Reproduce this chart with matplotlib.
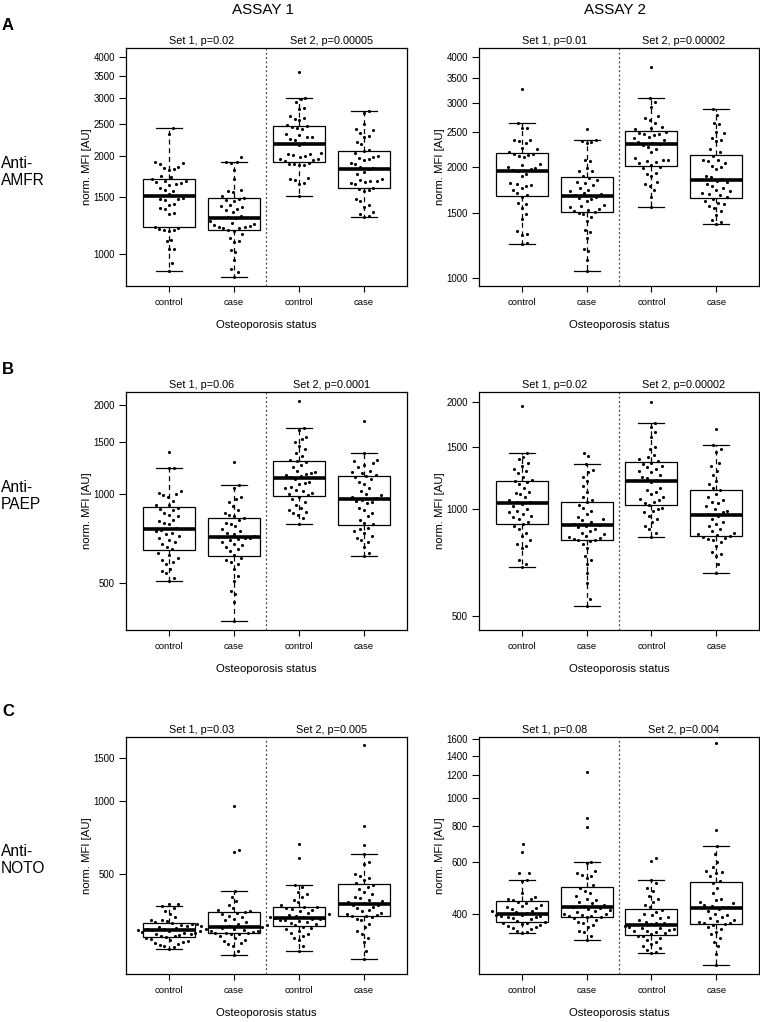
import numpy as np
import matplotlib.pyplot as plt
from matplotlib.ticker import NullLocator

plt.rcParams['font.family'] = ['Liberation Sans', 'DejaVu Sans']

# x groups
groups = ['control', 'case', 'control', 'case']
assays = ['ASSAY 1', 'ASSAY 2']
antigens = ['Anti-\nAMFR', 'Anti-\nPAEP', 'Anti-\nNOTO']
letters = ['A', 'B', 'C']

# p-value labels per panel (row, assay): (set 1, set 2)
p_labels = [
    [('Set 1, p=0.02', 'Set 2, p=0.00005'), ('Set 1, p=0.01', 'Set 2, p=0.00002')],
    [('Set 1, p=0.06', 'Set 2, p=0.0001'), ('Set 1, p=0.02', 'Set 2, p=0.00002')],
    [('Set 1, p=0.03', 'Set 2, p=0.005'), ('Set 1, p=0.08', 'Set 2, p=0.004')],
]

# --- Anti-AMFR, assay 1
amfr1_ctrl1 = [2440, 2340, 1910, 1900, 1890, 1850, 1840, 1820, 1810, 1740, 1720,
               1700, 1680, 1670, 1660, 1650, 1640, 1630, 1600, 1575, 1560, 1525,
               1490, 1480, 1475, 1470, 1430, 1420, 1390, 1380, 1340, 1330, 1215,
               1200, 1195, 1190, 1185, 1180, 1105, 1095, 1040, 1035, 940, 891]
amfr1_case1 = [1990, 1917, 1910, 1900, 1811, 1700, 1570, 1560, 1550, 1510, 1490,
               1480, 1470, 1460, 1420, 1410, 1400, 1380, 1370, 1350, 1310, 1300,
               1290, 1260, 1250, 1240, 1230, 1220, 1215, 1210, 1205, 1200, 1190,
               1180, 1150, 1120, 1100, 1090, 1030, 1020, 960, 900, 880, 854]
amfr1_ctrl2 = [3600, 3000, 2990, 2930, 2810, 2790, 2640, 2620, 2600, 2570, 2490,
               2470, 2460, 2440, 2420, 2330, 2310, 2290, 2280, 2250, 2230, 2190,
               2160, 2040, 2030, 2020, 2010, 2000, 1990, 1960, 1950, 1940, 1930,
               1900, 1895, 1890, 1880, 1870, 1710, 1700, 1690, 1650, 1640, 1504]
amfr1_case2 = [2737, 2700, 2500, 2420, 2400, 2350, 2300, 2290, 2200, 2180, 2090,
               2070, 2040, 2000, 1990, 1970, 1950, 1940, 1900, 1890, 1850, 1840,
               1820, 1790, 1760, 1700, 1690, 1680, 1670, 1660, 1650, 1640, 1600,
               1580, 1570, 1560, 1480, 1460, 1420, 1400, 1350, 1330, 1310, 1301]
# --- Anti-AMFR, assay 2
amfr2_ctrl1 = [3280, 2650, 2570, 2560, 2380, 2370, 2360, 2330, 2260, 2250, 2200,
               2180, 2170, 2160, 2150, 2140, 2040, 2030, 2000, 1990, 1980, 1970,
               1950, 1920, 1900, 1810, 1800, 1790, 1780, 1760, 1740, 1700, 1680,
               1660, 1600, 1590, 1550, 1490, 1450, 1340, 1320, 1310, 1240, 1234]
amfr2_case1 = [2547, 2377, 2360, 2340, 2330, 2100, 2080, 1990, 1960, 1950, 1900,
               1870, 1850, 1830, 1810, 1790, 1760, 1740, 1720, 1700, 1690, 1680,
               1660, 1650, 1640, 1620, 1580, 1570, 1560, 1540, 1530, 1520, 1515,
               1500, 1490, 1460, 1430, 1350, 1330, 1280, 1200, 1180, 1120, 1043]
amfr2_ctrl2 = [3750, 3084, 3020, 2920, 2760, 2720, 2700, 2640, 2580, 2560, 2540,
               2500, 2480, 2470, 2460, 2450, 2420, 2400, 2380, 2340, 2330, 2320,
               2300, 2280, 2240, 2200, 2120, 2100, 2090, 2080, 2070, 2050, 2030,
               2000, 1990, 1930, 1920, 1900, 1820, 1800, 1780, 1740, 1660, 1561]
amfr2_case2 = [2895, 2780, 2650, 2620, 2500, 2480, 2400, 2380, 2360, 2240, 2200,
               2150, 2100, 2090, 2080, 2060, 2020, 2000, 1980, 1900, 1880, 1860,
               1840, 1820, 1800, 1780, 1760, 1740, 1720, 1700, 1690, 1680, 1660,
               1640, 1620, 1600, 1590, 1570, 1550, 1520, 1480, 1440, 1420, 1397]
# --- Anti-PAEP, assay 1
paep1_ctrl1 = [1383, 1227, 1220, 1020, 1010, 1000, 990, 980, 950, 920, 915,
               900, 890, 880, 860, 850, 840, 820, 810, 800, 790, 770,
               755, 750, 740, 730, 720, 710, 700, 690, 680, 660, 650,
               630, 620, 610, 600, 590, 580, 560, 550, 540, 520, 510]
paep1_case1 = [1286, 1069, 1050, 980, 960, 940, 910, 880, 860, 850, 840,
               830, 820, 800, 790, 780, 760, 750, 740, 730, 720, 715,
               712, 710, 705, 700, 690, 680, 670, 660, 650, 640, 620,
               610, 600, 590, 580, 560, 530, 510, 470, 460, 430, 372]
paep1_ctrl2 = [2068, 1667, 1640, 1560, 1540, 1500, 1450, 1420, 1380, 1340, 1300,
               1290, 1280, 1250, 1230, 1200, 1190, 1180, 1170, 1160, 1150, 1140,
               1120, 1100, 1090, 1080, 1060, 1050, 1030, 1020, 1010, 1000, 990,
               980, 960, 940, 920, 900, 880, 870, 860, 850, 830, 792]
paep1_case2 = [1760, 1380, 1300, 1290, 1270, 1250, 1230, 1200, 1190, 1180, 1160,
               1150, 1140, 1120, 1100, 1080, 1050, 1020, 1000, 990, 980, 970,
               955, 950, 940, 930, 900, 880, 860, 840, 820, 800, 790,
               770, 760, 750, 740, 720, 710, 700, 690, 660, 630, 615]
# --- Anti-PAEP, assay 2
paep2_ctrl1 = [1946, 1443, 1400, 1380, 1350, 1320, 1300, 1280, 1260, 1230, 1210,
               1200, 1190, 1180, 1150, 1120, 1110, 1100, 1080, 1060, 1050, 1045,
               1035, 1020, 1000, 990, 980, 970, 960, 950, 940, 920, 910,
               900, 880, 860, 840, 820, 800, 790, 780, 720, 700, 690]
paep2_case1 = [1440, 1410, 1339, 1290, 1270, 1230, 1200, 1160, 1120, 1080, 1060,
               1045, 1030, 1010, 990, 970, 950, 940, 930, 920, 910, 905,
               900, 890, 880, 870, 860, 850, 840, 835, 830, 825, 822,
               818, 815, 800, 780, 740, 720, 700, 660, 620, 560, 536]
paep2_ctrl2 = [2000, 1751, 1700, 1650, 1600, 1500, 1480, 1420, 1400, 1380, 1370,
               1350, 1340, 1320, 1310, 1300, 1280, 1270, 1250, 1230, 1220, 1210,
               1190, 1150, 1130, 1120, 1100, 1080, 1070, 1060, 1050, 1040, 1030,
               1010, 1000, 990, 980, 960, 940, 920, 900, 880, 860, 837]
paep2_case2 = [1681, 1512, 1480, 1450, 1350, 1320, 1280, 1250, 1200, 1180, 1150,
               1130, 1100, 1080, 1060, 1050, 1040, 1020, 1000, 990, 980, 970,
               960, 940, 920, 910, 900, 880, 870, 860, 850, 845, 840,
               835, 830, 825, 820, 810, 790, 760, 750, 740, 700, 664]
# --- Anti-NOTO, assay 1
noto1_ctrl1 = [376, 375, 368, 360, 350, 340, 330, 322, 320, 318, 315,
               312, 310, 308, 305, 302, 300, 298, 296, 295, 293, 292,
               290, 288, 286, 285, 283, 281, 280, 278, 276, 275, 273,
               270, 268, 265, 262, 260, 258, 255, 252, 250, 248, 244]
noto1_case1 = [955, 625, 615, 424, 400, 385, 370, 360, 355, 350, 348,
               345, 340, 335, 330, 325, 320, 315, 310, 306, 304, 302,
               300, 298, 296, 294, 292, 290, 288, 286, 285, 284, 283,
               281, 280, 275, 270, 265, 262, 258, 255, 250, 240, 230]
noto1_ctrl2 = [660, 580, 447, 440, 420, 410, 400, 390, 380, 370, 365,
               362, 360, 358, 355, 350, 345, 340, 338, 335, 332, 330,
               328, 326, 325, 324, 322, 320, 318, 315, 312, 308, 305,
               300, 298, 295, 290, 285, 280, 275, 270, 265, 250, 239]
noto1_case2 = [1700, 785, 659, 605, 560, 550, 500, 490, 480, 470, 455,
               450, 440, 430, 420, 410, 400, 395, 390, 385, 380, 378,
               372, 370, 365, 360, 355, 350, 345, 340, 338, 335, 333,
               330, 325, 320, 310, 300, 290, 280, 270, 260, 240, 222]
# --- Anti-NOTO, assay 2
noto2_ctrl1 = [695, 650, 553, 550, 522, 520, 470, 455, 450, 448, 445,
               440, 435, 430, 425, 420, 418, 415, 410, 408, 405, 402,
               398, 396, 395, 393, 392, 390, 388, 385, 382, 378, 375,
               372, 370, 368, 365, 363, 360, 358, 355, 350, 345, 342]
noto2_case1 = [1231, 855, 796, 600, 598, 560, 550, 545, 540, 530, 500,
               490, 480, 470, 460, 450, 445, 440, 435, 430, 425, 422,
               418, 415, 412, 410, 405, 400, 398, 396, 394, 392, 390,
               388, 385, 380, 375, 370, 365, 360, 350, 345, 335, 325]
noto2_ctrl2 = [621, 608, 521, 510, 490, 480, 460, 450, 440, 430, 420,
               412, 405, 400, 395, 390, 385, 380, 375, 372, 370, 368,
               362, 360, 358, 356, 354, 352, 350, 348, 345, 342, 340,
               336, 334, 330, 325, 320, 315, 310, 305, 300, 295, 292]
noto2_case2 = [1540, 776, 685, 640, 600, 580, 560, 555, 550, 540, 520,
               510, 490, 470, 450, 445, 440, 435, 430, 425, 422, 420,
               415, 410, 400, 395, 390, 385, 380, 378, 375, 372, 370,
               368, 365, 360, 355, 345, 340, 330, 320, 310, 290, 266]

panel_data = [
    [[amfr1_ctrl1, amfr1_case1, amfr1_ctrl2, amfr1_case2],
     [amfr2_ctrl1, amfr2_case1, amfr2_ctrl2, amfr2_case2]],
    [[paep1_ctrl1, paep1_case1, paep1_ctrl2, paep1_case2],
     [paep2_ctrl1, paep2_case1, paep2_ctrl2, paep2_case2]],
    [[noto1_ctrl1, noto1_case1, noto1_ctrl2, noto1_case2],
     [noto2_ctrl1, noto2_case1, noto2_ctrl2, noto2_case2]],
]

yticks = [
    [[1000, 1500, 2000, 2500, 3000, 3500, 4000], [1000, 1500, 2000, 2500, 3000, 3500, 4000]],
    [[500, 1000, 1500, 2000], [500, 1000, 1500, 2000]],
    [[500, 1000, 1500], [400, 600, 800, 1000, 1200, 1400, 1600]],
]
ylims = [
    [(800, 4276), (949, 4236)],
    [(347, 2213), (458, 2134)],
    [(192, 1839), (248, 1621)],
]

W, H = 760, 1022
fig = plt.figure(figsize=(W / 100, H / 100), dpi=100)


def swarm_x(ax, xc, vals, dx0=4.8, dy0=9.0):
    # simple beeswarm: place points in ascending order at the nearest free x offset
    pts = ax.transData.transform(np.column_stack([np.full(len(vals), xc), vals]))
    ypix = pts[:, 1]
    ppu = ax.transData.transform([(1, 1)])[0, 0] - ax.transData.transform([(0, 1)])[0, 0]
    placed = []
    offs = np.zeros(len(vals))
    for i in np.argsort(ypix):
        y = ypix[i]
        cands = [0.0]
        for px, py in placed:
            dy = abs(y - py)
            if dy < dy0:
                dx = dx0 * np.sqrt(1 - (dy / dy0) ** 2)
                cands += [px + dx, px - dx]
        cands.sort(key=abs)
        for c in cands:
            if all(((c - px) / dx0) ** 2 + ((y - py) / dy0) ** 2 >= 1 - 1e-6
                   for px, py in placed):
                break
        placed.append((c, y))
        offs[i] = c
    return xc + offs / ppu


lefts = [126, 479]
widths = [281, 280]
tops = [48, 392, 737]
heights = [238, 238, 237]

for r in range(3):
    for c in range(2):
        ax = fig.add_axes([lefts[c] / W, 1 - (tops[r] + heights[r]) / H,
                           widths[c] / W, heights[r] / H])
        vals = panel_data[r][c]
        ax.set_yscale('log')
        ax.boxplot(vals, positions=[1, 2, 3, 4], widths=0.8, capwidths=0.4,
                   showfliers=False, patch_artist=True,
                   boxprops=dict(facecolor='white', edgecolor='black', lw=0.9),
                   medianprops=dict(color='black', lw=2.6),
                   whiskerprops=dict(color='black', lw=0.9, ls=(0, (4, 3))),
                   capprops=dict(color='black', lw=0.9))
        ax.set_xlim(0.34, 4.66)
        ax.set_ylim(*ylims[r][c])
        ax.axvline(2.5, color='#444444', lw=0.9, ls=(0, (1.5, 2)))
        for k, v in enumerate(vals):
            xs = swarm_x(ax, k + 1, v)
            ax.scatter(xs, v, s=5, color='black', lw=0, zorder=3)

        ax.yaxis.set_minor_locator(NullLocator())
        ax.set_yticks(yticks[r][c])
        ax.set_yticklabels([str(t) for t in yticks[r][c]])
        ax.set_xticks([1, 2, 3, 4])
        ax.set_xticklabels(groups)
        ax.tick_params(axis='y', labelsize=6.9, length=5, width=0.8, pad=3)
        ax.tick_params(axis='x', labelsize=6.8, length=4.5, width=0.8, pad=4)
        for s in ax.spines.values():
            s.set_linewidth(0.9)
        ax.set_ylabel('norm. MFI [AU]', fontsize=8.2)
        ax.yaxis.set_label_coords(-34 / widths[c], 0.5)
        ax.set_xlabel('Osteoporosis status', fontsize=8.2)
        ax.xaxis.set_label_coords(0.5, -34 / heights[r])
        ax.text(1.5, 1.01, p_labels[r][c][0], transform=ax.get_xaxis_transform(),
                ha='center', va='bottom', fontsize=7.8)
        ax.text(3.5, 1.01, p_labels[r][c][1], transform=ax.get_xaxis_transform(),
                ha='center', va='bottom', fontsize=7.8)

fig.text(263 / W, 1 - 10 / H, assays[0], ha='center', va='center', fontsize=11)
fig.text(615 / W, 1 - 10 / H, assays[1], ha='center', va='center', fontsize=11)
for r, (ly, ay) in enumerate([(26, 172), (369, 496), (712, 860)]):
    fig.text(2 / W, 1 - ly / H, letters[r], ha='left', va='center',
             fontsize=12, fontweight='bold')
    fig.text(1 / W, 1 - ay / H, antigens[r], ha='left', va='center', fontsize=11.2)

fig.savefig('out.png', dpi=100)
